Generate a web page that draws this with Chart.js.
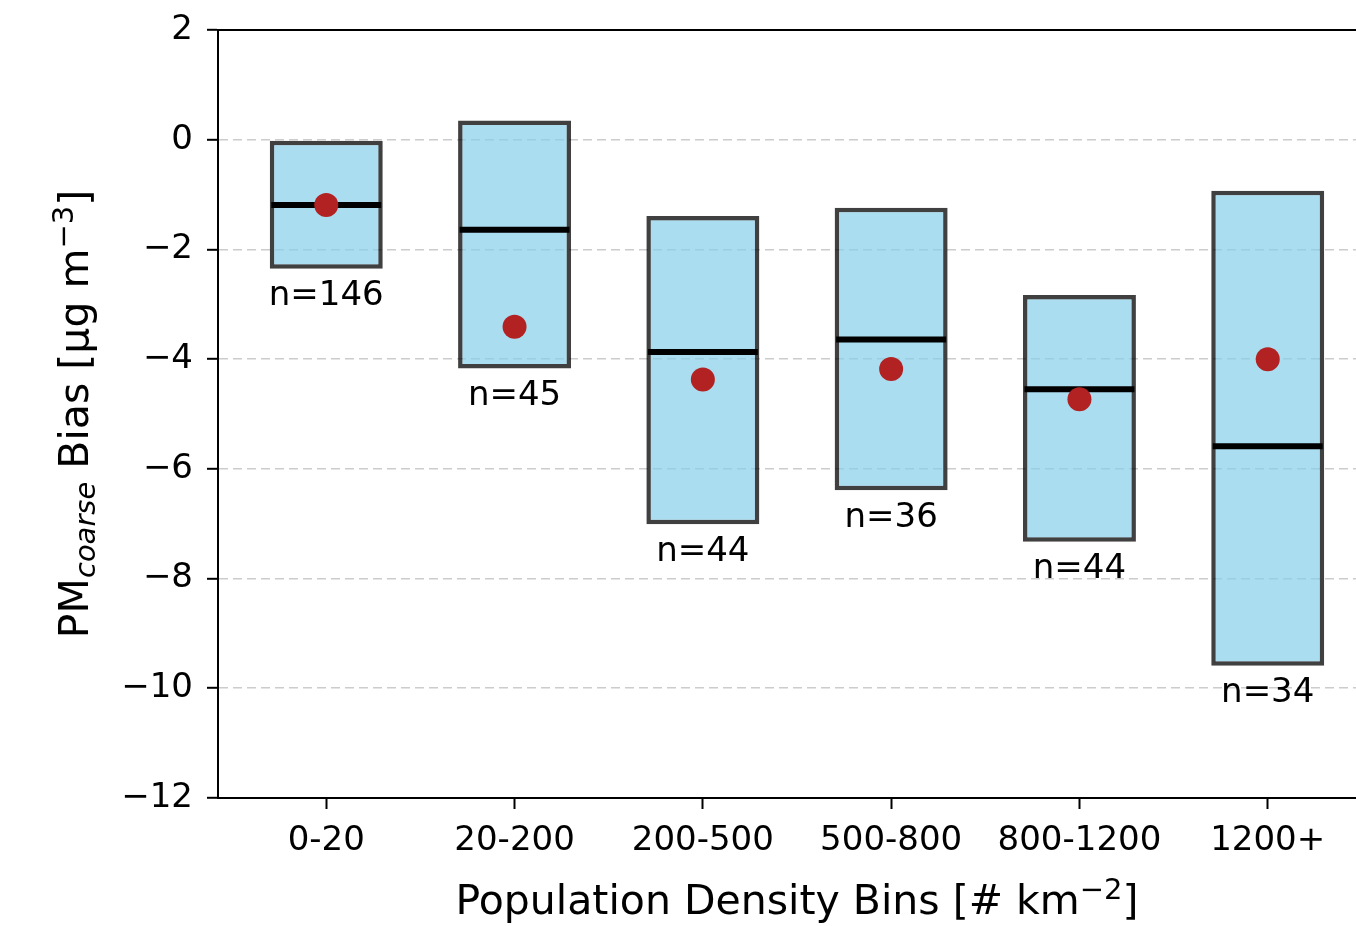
<!DOCTYPE html>
<html>
<head>
<meta charset="utf-8">
<script src="https://cdn.jsdelivr.net/npm/chart.js@4.4.1/dist/chart.umd.min.js"></script>
<style>
  html, body { margin: 0; padding: 0; background: #fff; overflow: hidden; }
  #wrap { width: 1388px; height: 926px; }
</style>
</head>
<body>
<div id="wrap"><canvas id="biasChart" width="1388" height="926"></canvas></div>
<script>
// PM coarse bias per population density bin
const categories = ["0-20", "20-200", "200-500", "500-800", "800-1200", "1200+"];
const q1Values = [-2.35, -4.17, -7.01, -6.39, -7.33, -9.59];
const q3Values = [-0.02, 0.35, -1.39, -1.24, -2.83, -0.93];
const medianValues = [-1.19, -1.64, -3.87, -3.64, -4.55, -5.59];
const meanValues = [-1.19, -3.41, -4.37, -4.18, -4.73, -4.00];
const counts = [146, 45, 44, 36, 44, 34];
const yTicks = [2, 0, -2, -4, -6, -8, -10, -12];

const FONT = "'DejaVu Sans', sans-serif";
const BOX_WIDTH = 0.6;

// draw a row of text pieces (for sub/superscripts), centred on cx
function drawPieces(ctx, pieces, cx, baseline) {
    let total = 0;
    pieces.forEach(p => {
        ctx.font = (p.italic ? "italic " : "") + p.size + "px " + FONT;
        p.w = ctx.measureText(p.t).width;
        total += p.w;
    });
    let x = cx - total / 2;
    ctx.textAlign = "left";
    ctx.textBaseline = "alphabetic";
    pieces.forEach(p => {
        ctx.font = (p.italic ? "italic " : "") + p.size + "px " + FONT;
        ctx.fillText(p.t, x, baseline + (p.dy || 0));
        x += p.w;
    });
}

const extrasPlugin = {
    id: "extras",
    afterDatasetsDraw(chart) {
        const ctx = chart.ctx;
        const xs = chart.scales.x, ys = chart.scales.y;
        ctx.save();
        ctx.fillStyle = "#000";
        ctx.font = "34px " + FONT;
        ctx.textAlign = "center";
        ctx.textBaseline = "middle";
        counts.forEach((n, i) => {
            ctx.fillText("n=" + n, xs.getPixelForValue(i), ys.getPixelForValue(q1Values[i] - 0.5));
        });
        ctx.restore();
    },
    afterDraw(chart) {
        const ctx = chart.ctx;
        const a = chart.chartArea;
        ctx.save();
        // top and right spines
        ctx.strokeStyle = "#000";
        ctx.lineWidth = 2;
        ctx.beginPath();
        ctx.moveTo(a.left, a.top);
        ctx.lineTo(a.right, a.top);
        ctx.lineTo(a.right, a.bottom);
        ctx.stroke();

        ctx.fillStyle = "#000";
        // x axis title
        drawPieces(ctx, [
            { t: "Population Density Bins [# km", size: 41 },
            { t: "\u22122", size: 29, dy: -15 },
            { t: "]", size: 41 }
        ], (a.left + a.right) / 2, 914);

        // y axis title (rotated)
        ctx.translate(88, (a.top + a.bottom) / 2);
        ctx.rotate(-Math.PI / 2);
        drawPieces(ctx, [
            { t: "PM", size: 41 },
            { t: "coarse", size: 29, italic: true, dy: 7 },
            { t: " Bias [\u03bcg m", size: 41 },
            { t: "\u22123", size: 29, dy: -15 },
            { t: "]", size: 41 }
        ], 0, 0);
        ctx.restore();
    }
};

const boxData = categories.map((c, i) => ({ x: i, y: [q1Values[i], q3Values[i]] }));
const medianData = categories.map((c, i) => ({ x: i, y: medianValues[i] }));
const meanData = categories.map((c, i) => ({ x: i, y: meanValues[i] }));

const ctx = document.getElementById("biasChart").getContext("2d");
new Chart(ctx, {
    type: "bar",
    data: {
        datasets: [
            {
                type: "bar",
                data: boxData,
                backgroundColor: "rgba(135,206,235,0.7)",
                borderColor: "rgba(0,0,0,0.75)",
                borderWidth: 4.5,
                borderSkipped: false,
                barPercentage: BOX_WIDTH,
                categoryPercentage: 1,
                order: 3
            },
            {
                type: "scatter",
                data: medianData,
                pointStyle: "line",
                pointRadius: c => {
                    const xs = c.chart.scales.x;
                    return xs.getPixelForValue(BOX_WIDTH / 2) - xs.getPixelForValue(0) - 1.5;
                },
                pointBorderColor: "#000",
                pointBorderWidth: 6,
                order: 2
            },
            {
                type: "scatter",
                data: meanData,
                pointStyle: "circle",
                pointRadius: 12,
                pointBackgroundColor: "#b22222",
                pointBorderWidth: 0,
                order: 1
            }
        ]
    },
    options: {
        responsive: false,
        animation: false,
        events: [],
        layout: { padding: { top: 30, right: 4, left: 0, bottom: 0 } },
        plugins: { legend: { display: false }, tooltip: { enabled: false } },
        scales: {
            x: {
                type: "linear",
                offset: false,
                min: -0.575,
                max: 5.575,
                afterBuildTicks: s => { s.ticks = categories.map((c, i) => ({ value: i })); },
                afterFit: s => {
                    s.height = 128;
                    s.paddingLeft = 0;
                    s.paddingRight = 0;
                },
                grid: { offset: false, drawOnChartArea: false, drawTicks: true, tickLength: 11, tickColor: "#000", tickWidth: 2 },
                border: { display: true, color: "#000", width: 2 },
                ticks: {
                    autoSkip: false,
                    maxRotation: 0,
                    padding: 12,
                    color: "#000",
                    font: { family: FONT, size: 34 },
                    callback: v => categories[v] || ""
                }
            },
            y: {
                min: -12,
                max: 2,
                afterBuildTicks: s => { s.ticks = yTicks.map(v => ({ value: v })); },
                afterFit: s => {
                    s.width = 218;
                    s.paddingTop = 0;
                    s.paddingBottom = 0;
                },
                grid: {
                    color: c => (c.tick && (c.tick.value === 2 || c.tick.value === -12)) ? "rgba(0,0,0,0)" : "#cccccc",
                    lineWidth: 1.6,
                    drawTicks: true,
                    tickLength: 11,
                    tickColor: "#000",
                    tickWidth: 2
                },
                border: { display: true, color: "#000", width: 2, dash: [9, 5] },
                ticks: {
                    padding: 14,
                    color: "#000",
                    font: { family: FONT, size: 34 },
                    callback: v => v < 0 ? "\u2212" + Math.abs(v) : String(v)
                }
            }
        }
    },
    plugins: [extrasPlugin]
});
</script>
</body>
</html>
